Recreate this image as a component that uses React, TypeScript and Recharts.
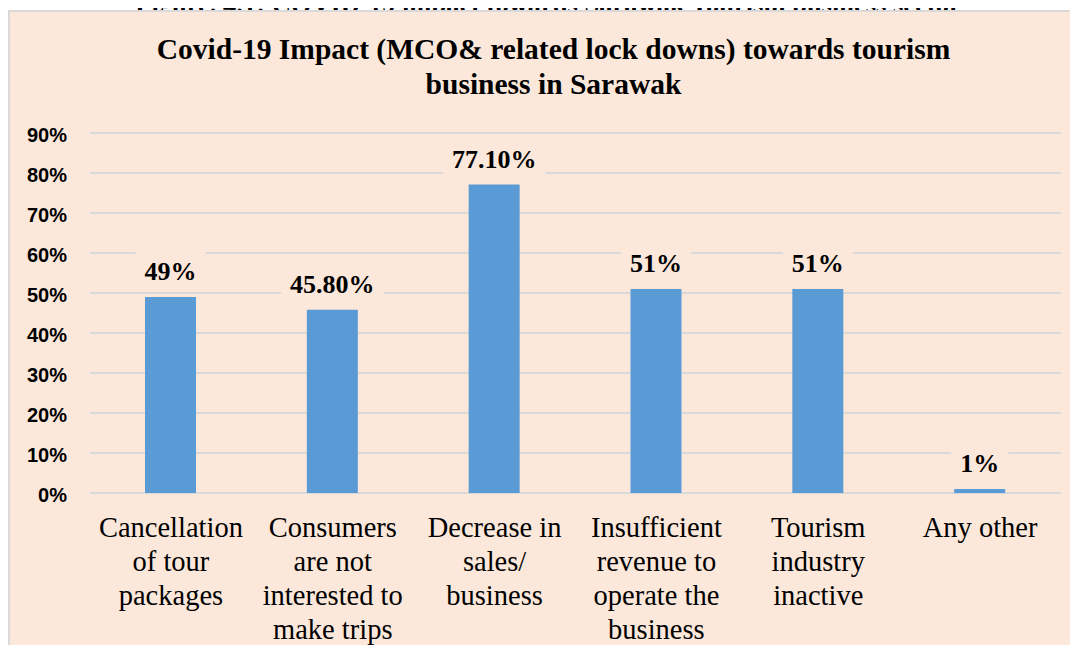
import React from "react";
import { BarChart, Bar, XAxis, YAxis, CartesianGrid, LabelList } from "recharts";

const categories = [
  "Cancellation\nof tour\npackages",
  "Consumers\nare not\ninterested to\nmake trips",
  "Decrease in\nsales/\nbusiness",
  "Insufficient\nrevenue to\noperate the\nbusiness",
  "Tourism\nindustry\ninactive",
  "Any other",
];
const impactValues = [49, 45.8, 77.1, 51, 51, 1];
const valueLabels = ["49%", "45.80%", "77.10%", "51%", "51%", "1%"];
const yTicks = [0, 10, 20, 30, 40, 50, 60, 70, 80, 90];

const captionText = "Figure. 4.1: COVID-19 impact towards Sarawak Tourism business sector";
const titleLines = ["Covid-19 Impact (MCO& related lock downs) towards tourism", "business in Sarawak"];

const data = categories.map((name, i) => ({ name, value: impactValues[i], label: valueLabels[i] }));

const BG = "#FCE8DA";
const GRID = "#D9D9D9";
const BAR = "#5B9BD5";
const SERIF = "'Liberation Serif', 'Times New Roman', serif";
const SANS = "'Liberation Sans', Arial, sans-serif";

const charW = (c: string) => {
  if (c === "%") return 1.0;
  if (c === ".") return 0.25;
  return 0.5;
};

const renderLabel = (props: any) => {
  const { x, y, width, value } = props;
  const cx = Number(x) + Number(width) / 2;
  const baseline = Number(y) - 17;
  const fs = 26;
  const tw = String(value).split("").reduce((s, c) => s + charW(c) * fs, 0);
  const w = tw + 18;
  return (
    <g>
      <rect x={cx - w / 2} y={baseline - 30} width={w} height={37} fill={BG} />
      <text x={cx} y={baseline} textAnchor="middle" fontFamily={SERIF} fontWeight="bold" fontSize={fs} fill="#000">
        {value}
      </text>
    </g>
  );
};

const XTick = (props: any) => {
  const { x, y, payload } = props;
  const lines = String(payload.value).split("\n");
  return (
    <text x={x} y={y + 44} textAnchor="middle" fontFamily={SERIF} fontSize={28.5} fill="#000">
      {lines.map((l, i) => (
        <tspan key={i} x={x} dy={i === 0 ? 0 : 34}>
          {l}
        </tspan>
      ))}
    </text>
  );
};

const YTick = (props: any) => {
  const { x, y, payload } = props;
  return (
    <text x={x} y={y + 9} textAnchor="end" fontFamily={SANS} fontWeight="bold" fontSize={20} fill="#000">
      {`${payload.value}%`}
    </text>
  );
};

export default function App() {
  return (
    <div style={{ position: "relative", width: 1078, height: 653, margin: -8, overflow: "hidden", background: "#fff" }}>
      <div
        style={{
          position: "absolute",
          left: 0,
          top: -9,
          width: 1096,
          textAlign: "center",
          fontFamily: SERIF,
          fontWeight: "bold",
          fontSize: 26.5,
          lineHeight: "26.5px",
          whiteSpace: "nowrap",
          color: "#000",
        }}
      >
        {captionText}
      </div>
      <div
        style={{
          position: "absolute",
          left: 8,
          top: 10,
          width: 1100,
          height: 700,
          background: BG,
          borderLeft: `2px solid ${GRID}`,
          borderTop: `2px solid ${GRID}`,
        }}
      />
      <div
        style={{
          position: "absolute",
          left: 0,
          top: 32,
          width: 1107,
          textAlign: "center",
          fontFamily: SERIF,
          fontWeight: "bold",
          fontSize: 29.5,
          lineHeight: "35px",
          color: "#000",
        }}
      >
        {titleLines[0]}
        <br />
        {titleLines[1]}
      </div>
      <div style={{ position: "absolute", left: 0, top: 0 }}>
        <BarChart width={1078} height={653} data={data} margin={{ top: 133, right: 17, bottom: 0, left: 0 }} barSize={51}>
          <CartesianGrid horizontal vertical={false} stroke={GRID} strokeWidth={2} />
          <XAxis
            dataKey="name"
            height={160}
            axisLine={false}
            tickLine={false}
            tickSize={0}
            tickMargin={0}
            interval={0}
            tick={<XTick />}
          />
          <YAxis
            width={90}
            domain={[0, 90]}
            ticks={yTicks}
            axisLine={false}
            tickLine={false}
            tickSize={0}
            tickMargin={23}
            tick={<YTick />}
            interval={0}
          />
          <Bar dataKey="value" fill={BAR} isAnimationActive={false}>
            <LabelList dataKey="label" content={renderLabel} />
          </Bar>
        </BarChart>
      </div>
    </div>
  );
}
